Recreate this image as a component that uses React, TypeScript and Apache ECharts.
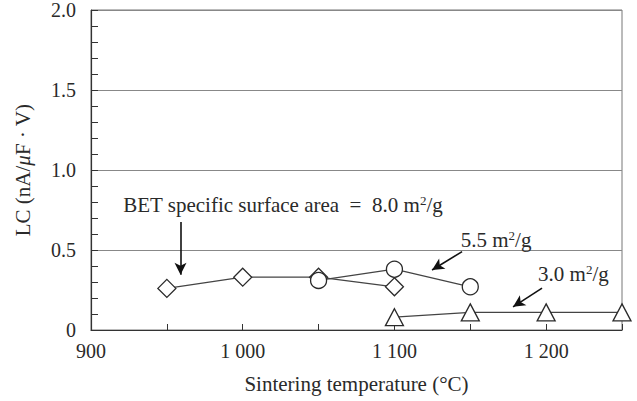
import React, { useEffect, useRef } from "react";
import * as echarts from "echarts";

const temps80 = [950, 1000, 1050, 1100];
const lc80 = [0.26, 0.33, 0.33, 0.27];
const temps55 = [1050, 1100, 1150];
const lc55 = [0.31, 0.38, 0.27];
const temps30 = [1100, 1150, 1200, 1250];
const lc30 = [0.08, 0.11, 0.11, 0.11];
const xTickValues = [900, 1000, 1100, 1200];
const xTickLabels = ["900", "1 000", "1 100", "1 200"];

// annotation texts: [x, y] in data units
const noteTexts = [
  "BET specific surface area\u2002=\u20028.0 m{sup|2}/g",
  "5.5 m{sup|2}/g",
  "3.0 m{sup|2}/g",
];
const noteAt = [
  [1026.5, 0.78],
  [1167, 0.56],
  [1218, 0.35],
];
// arrows: from -> to, data units
const arrowFrom = [
  [959, 0.675],
  [1144.6, 0.49],
  [1197.3, 0.262],
];
const arrowTo = [
  [959, 0.345],
  [1124.8, 0.375],
  [1178.2, 0.145],
];

const FONT = "'Liberation Serif', 'DejaVu Serif', serif";
const INK = "#2a2a2a";

export default function App() {
  const ref = useRef<HTMLDivElement>(null);
  useEffect(() => {
    if (!ref.current) return;
    const chart = echarts.init(ref.current, undefined, { renderer: "svg" });
    const marker = {
      color: "#fff",
      borderColor: INK,
      borderWidth: 1.3,
    };
    const line = { color: "#444", width: 1.2 };
    chart.setOption({
      animation: false,
      backgroundColor: "#fff",
      textStyle: { fontFamily: FONT },
      grid: {
        left: 91,
        right: 15,
        top: 10,
        bottom: 71,
        show: true,
        borderColor: "#777",
        borderWidth: 1,
      },
      xAxis: {
        type: "value",
        min: 900,
        max: 1250,
        interval: 50,
        name: "Sintering temperature (°C)",
        nameLocation: "middle",
        nameGap: 43,
        nameTextStyle: { fontFamily: FONT, fontSize: 21, color: INK },
        axisLine: { show: true, lineStyle: { color: "#333", width: 1.2 } },
        axisTick: { show: true, inside: true, length: 6, lineStyle: { color: "#333" } },
        axisLabel: {
          fontFamily: FONT,
          fontSize: 20,
          color: INK,
          margin: 11,
          formatter: (v: number) => {
            const i = xTickValues.indexOf(v);
            return i >= 0 ? xTickLabels[i] : "";
          },
        },
        splitLine: { show: false },
      },
      yAxis: {
        type: "value",
        min: 0,
        max: 2,
        interval: 0.5,
        name: "LC (nA/{i|μ}F · V)",
        nameLocation: "middle",
        nameGap: 58,
        nameRotate: 90,
        nameTextStyle: {
          fontFamily: FONT,
          fontSize: 21,
          color: INK,
          rich: { i: { fontFamily: FONT, fontSize: 21, fontStyle: "italic", color: INK } },
        },
        axisLine: { show: true, lineStyle: { color: "#333", width: 1.2 } },
        axisTick: { show: true, inside: true, length: 7, lineStyle: { color: "#333" } },
        minorTick: { show: true, splitNumber: 5, length: 7, lineStyle: { color: "#333" } },
        axisLabel: {
          fontFamily: FONT,
          fontSize: 20,
          color: INK,
          margin: 15,
          formatter: (v: number) => (v === 0 ? "0" : v.toFixed(1)),
        },
        splitLine: { show: true, lineStyle: { color: "#888", width: 1 } },
      },
      series: [
        {
          type: "line",
          data: temps80.map((t, i) => [t, lc80[i]]),
          symbol: "diamond",
          symbolSize: 18,
          showAllSymbol: true,
          lineStyle: line,
          itemStyle: marker,
          z: 3,
          markLine: {
            silent: true,
            symbol: ["none", "arrow"],
            symbolSize: [9, 12],
            label: { show: false },
            lineStyle: { color: "#111", width: 1.6, type: "solid" },
            data: arrowFrom.map((f, i) => [{ coord: f }, { coord: arrowTo[i] }]),
          },
        },
        {
          type: "line",
          data: temps55.map((t, i) => [t, lc55[i]]),
          symbol: "circle",
          symbolSize: 16,
          showAllSymbol: true,
          lineStyle: line,
          itemStyle: marker,
          z: 4,
        },
        {
          type: "line",
          data: temps30.map((t, i) => [t, lc30[i]]),
          symbol: "triangle",
          symbolSize: [18, 17],
          showAllSymbol: true,
          lineStyle: line,
          itemStyle: marker,
          z: 5,
        },
      ],
    });
    const graphic = noteTexts.map((txt, i) => {
      const p = chart.convertToPixel({ gridIndex: 0 }, noteAt[i]) as number[];
      return {
        type: "text",
        x: p[0],
        y: p[1],
        z: 10,
        style: {
          text: txt,
          fontFamily: FONT,
          fontSize: 21,
          fill: INK,
          align: "center",
          verticalAlign: "middle",
          rich: {
            sup: { fontFamily: FONT, fontSize: 13, verticalAlign: "top", padding: [0, 0, 9, 0], fill: INK },
          },
        },
      };
    });
    chart.setOption({ graphic });
    return () => chart.dispose();
  }, []);
  return <div ref={ref} style={{ width: 637, height: 401, position: "absolute", left: 0, top: 0 }} />;
}
